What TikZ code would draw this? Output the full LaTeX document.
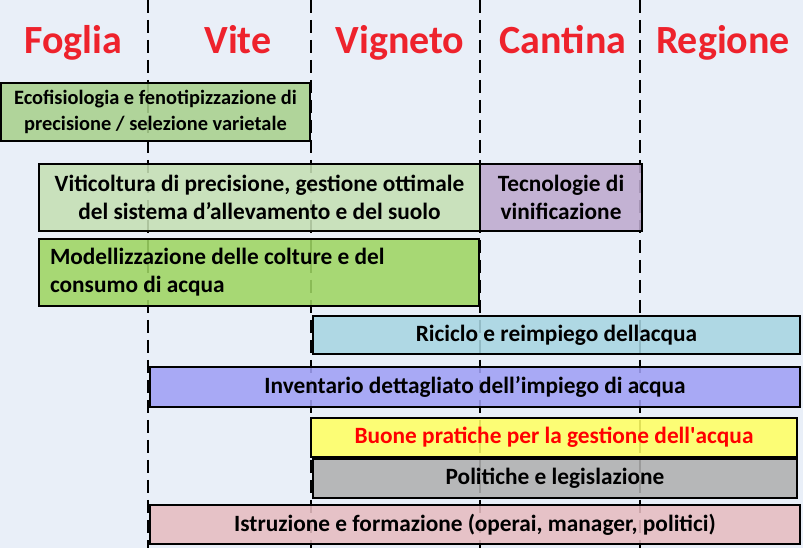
\documentclass[tikz,border=0pt]{standalone}
\usepackage{fontspec}
\setmainfont{Carlito}
\definecolor{bgblue}{RGB}{233,239,248}
\definecolor{headred}{RGB}{238,34,44}
\definecolor{ecogreen}{RGB}{169,209,142}
\definecolor{vitgreen}{RGB}{197,224,180}
\definecolor{tecpurple}{RGB}{190,170,207}
\definecolor{modgreen}{RGB}{158,213,98}
\definecolor{riccyan}{RGB}{168,213,226}
\definecolor{invblue}{RGB}{160,160,245}
\definecolor{buoyellow}{RGB}{255,255,100}
\definecolor{polgray}{RGB}{176,176,176}
\definecolor{istpink}{RGB}{230,188,193}

\begin{document}
\begin{tikzpicture}[x=0.75pt,y=-0.75pt]
    \tikzstyle{head}=[text=headred,anchor=base,font=\bfseries\fontsize{30}{36}\selectfont]
    \tikzstyle{sep}=[line width=2pt,dash pattern=on 9.75pt off 5.25pt]
    \tikzstyle{bar}=[draw=black,line width=1.5pt,fill opacity=0.88,text opacity=1,inner sep=0pt,align=center,font=\bfseries\fontsize{17.5}{21}\selectfont]

    \fill[bgblue] (0,0) rectangle (803,548);
    \useasboundingbox (0,0) rectangle (803,548);

    % separatori tra le scale
    \foreach \x in {148,311,480,640}
        \draw[sep] (\x,0) -- (\x,548);

    % intestazioni
    \foreach \name/\x in {Foglia/73, Vite/238, Vigneto/400, Cantina/563, Regione/723}
        \node[head] (H-\name) at (\x,54) {\name};

    % attivita
    \node[bar,fill=ecogreen,minimum width=231.75pt,minimum height=43.5pt,font=\bfseries\fontsize{15.3}{19.5}\selectfont] (eco) at (155.5,112)
        {Ecofisiologia e fenotipizzazione di\\precisione / selezione varietale};
    \node[bar,fill=vitgreen,minimum width=330.75pt,minimum height=50.25pt] (vit) at (259.5,197.5)
        {Viticoltura di precisione, gestione ottimale\\del sistema d’allevamento e del suolo};
    \node[bar,fill=tecpurple,minimum width=121.5pt,minimum height=50.25pt] (tec) at (561,197.5)
        {Tecnologie di\\vinificazione};
    \node[bar,fill=modgreen,text width=313.5pt,inner xsep=8.25pt,minimum height=50.25pt,align=flush left] (mod) at (259,272.5)
        {Modellizzazione delle colture e del\\consumo di acqua};
    \node[bar,fill=riccyan,minimum width=365.25pt,minimum height=28.5pt] (ric) at (556.5,335)
        {Riciclo e reimpiego dellacqua};
    \node[bar,fill=invblue,minimum width=487.5pt,minimum height=30pt] (inv) at (475,387)
        {Inventario dettagliato dell’impiego di acqua};
    \node[bar,fill=buoyellow,text=red,minimum width=364.5pt,minimum height=29.25pt] (buo) at (554,437.5)
        {Buone pratiche per la gestione dell\textquotesingle acqua};
    \node[bar,fill=polgray,minimum width=363pt,minimum height=29.25pt] (pol) at (555,478.5)
        {Politiche e legislazione};
    \node[bar,fill=istpink,minimum width=487.5pt,minimum height=29.25pt] (ist) at (475,524.5)
        {Istruzione e formazione (operai, manager, politici)};
\end{tikzpicture}
\end{document}
